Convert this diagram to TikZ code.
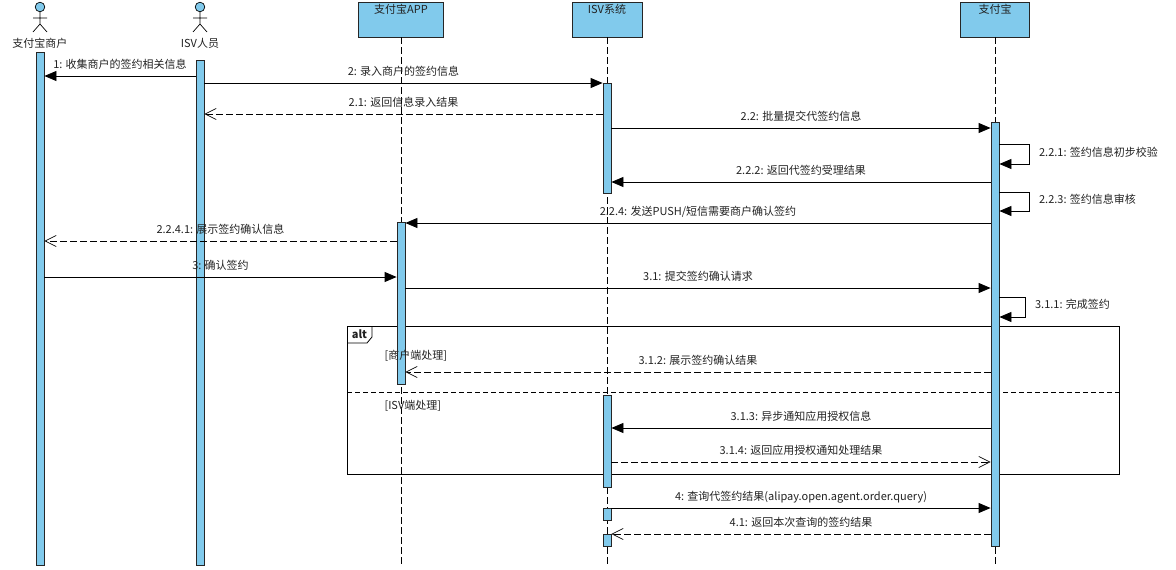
\documentclass[tikz,border=0pt]{standalone}
\usepackage{fontspec}
\usepackage{xcolor}
\usepackage{tikz}
\usetikzlibrary{arrows.meta}
\setmainfont{Noto Sans CJK SC}
\definecolor{lifeblue}{RGB}{129,202,236}
\definecolor{inkgray}{RGB}{34,34,34}

\tikzset{
  bar/.style={draw=black!85, fill=lifeblue, line width=0.8pt, minimum width=8pt, inner sep=0pt, anchor=north},
  headbox/.style={draw=black!85, fill=lifeblue, line width=0.8pt, minimum height=35pt, inner sep=0pt},
  lifeline/.style={line width=0.8pt, dash pattern=on 7pt off 3pt},
  msg/.style={line width=0.8pt, -{Triangle[length=12pt,width=10pt]}},
  reply/.style={line width=0.7pt, dash pattern=on 7pt off 3pt, -{Straight Barb[length=11pt,width=11pt]}},
  msglabel/.style={anchor=base, yshift=8pt},
  selflabel/.style={anchor=west}
}

\begin{document}
\begin{tikzpicture}[x=1pt, y=-1pt, line join=miter,
  every node/.style={font=\fontsize{11}{13}\selectfont, text=inkgray}]
\useasboundingbox (0,0) rectangle (1176,570);

% actors
\foreach \n/\x/\t in {merchant/40/支付宝商户, isvman/200/ISV人员}{
	\draw[fill=lifeblue, line width=0.7pt] (\x,7) circle (4.8pt);
	\draw[line width=0.7pt] (\x,12) -- (\x,24) (\x-7,18) -- (\x+7,18) (\x-7,32) -- (\x,24) -- (\x+7,32);
	\node (\n) at (\x,43) {\t};
}

% lifeline heads
\node[headbox, minimum width=85pt] (app) at (401,19.5) {};
\node[headbox, minimum width=70pt] (isvsys) at (607,19.5) {};
\node[headbox, minimum width=69pt] (alipay) at (995,19.5) {};
\node[anchor=north, inner sep=2pt] (appname) at (app.north) {支付宝APP};
\node[anchor=north, inner sep=2pt] (isvsysname) at (isvsys.north) {ISV系统};
\node[anchor=north, inner sep=2pt] (alipayname) at (alipay.north) {支付宝};

\draw[lifeline] (app.south) -- (401,565);
\draw[lifeline] (isvsys.south) -- (607,565);
\draw[lifeline] (alipay.south) -- (995,565);

% alt frame
\draw[line width=0.8pt] (347,326) rectangle (1119,474);
\draw[line width=0.8pt] (347,343) -- (367,343) -- (372,337) -- (372,326);
\node[font=\fontsize{11}{13}\selectfont\bfseries] (altname) at (359.5,334) {alt};
\draw[line width=0.7pt, dash pattern=on 5pt off 3pt] (347,392) -- (1119,392);

% activation bars
\node[bar, minimum height=513pt] (mbar) at (40,52) {};
\node[bar, minimum height=505pt] (ibar) at (200,60) {};
\node[bar, minimum height=162pt] (abar) at (401,222) {};
\node[bar, minimum height=110pt] (sbar1) at (607,83) {};
\node[bar, minimum height=92pt] (sbar2) at (607,395) {};
\node[bar, minimum height=12pt] (sbar3) at (607,508) {};
\node[bar, minimum height=12pt] (sbar4) at (607,534) {};
\node[bar, minimum height=424pt] (zbar) at (995,122) {};

\node[anchor=west] (guard1) at (381,356) {[商户端处理]};
\node[anchor=west] (guard2) at (381,406) {[ISV端处理]};

% messages
\draw[msg] (ibar.west |- 0,76) -- node[msglabel]{1: 收集商户的签约相关信息} (mbar.east |- 0,76);
\draw[msg] (ibar.east |- 0,83) -- node[msglabel]{2: 录入商户的签约信息} (sbar1.west |- 0,83);
\draw[reply] (sbar1.west |- 0,114) -- node[msglabel]{2.1: 返回信息录入结果} (ibar.east |- 0,114);
\draw[msg] (sbar1.east |- 0,128) -- node[msglabel]{2.2: 批量提交代签约信息} (zbar.west |- 0,128);
\draw[msg] (zbar.east |- 0,144) -- ++(30,0) node[selflabel, pos=1, yshift=-8pt, xshift=6pt]{2.2.1: 签约信息初步校验} |- (zbar.east |- 0,164);
\draw[msg] (zbar.west |- 0,182) -- node[msglabel]{2.2.2: 返回代签约受理结果} (sbar1.east |- 0,182);
\draw[msg] (zbar.east |- 0,192) -- ++(30,0) node[selflabel, pos=1, yshift=-7pt, xshift=6pt]{2.2.3: 签约信息审核} |- (zbar.east |- 0,211);
\draw[msg] (zbar.west |- 0,223) -- node[msglabel]{2.2.4: 发送PUSH/短信需要商户确认签约} (abar.east |- 0,223);
\draw[reply] (abar.west |- 0,241) -- node[msglabel]{2.2.4.1: 展示签约确认信息} (mbar.east |- 0,241);
\draw[msg] (mbar.east |- 0,277) -- node[msglabel]{3: 确认签约} (abar.west |- 0,277);
\draw[msg] (abar.east |- 0,288) -- node[msglabel]{3.1: 提交签约确认请求} (zbar.west |- 0,288);
\draw[msg] (zbar.east |- 0,297) -- ++(26,0) node[selflabel, pos=1, yshift=-7pt, xshift=6pt]{3.1.1: 完成签约} |- (zbar.east |- 0,317);
\draw[reply] (zbar.west |- 0,372) -- node[msglabel]{3.1.2: 展示签约确认结果} (abar.east |- 0,372);
\draw[msg] (zbar.west |- 0,428) -- node[msglabel]{3.1.3: 异步通知应用授权信息} (sbar2.east |- 0,428);
\draw[reply] (sbar2.east |- 0,462) -- node[msglabel]{3.1.4: 返回应用授权通知处理结果} (zbar.west |- 0,462);
\draw[msg] (sbar3.east |- 0,508) -- node[msglabel]{4: 查询代签约结果(alipay.open.agent.order.query)} (zbar.west |- 0,508);
\draw[reply] (zbar.west |- 0,534) -- node[msglabel]{4.1: 返回本次查询的签约结果} (sbar4.east |- 0,534);
\end{tikzpicture}
\end{document}
